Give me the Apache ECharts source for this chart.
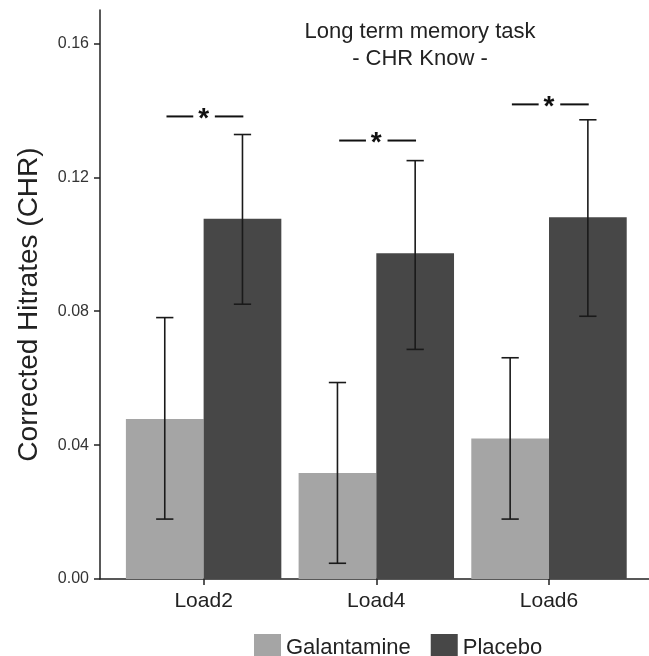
<!DOCTYPE html>
<html>
<head>
<meta charset="utf-8">
<script src="https://cdn.jsdelivr.net/npm/echarts@6/dist/echarts.min.js"></script>
<style>
  html, body { margin: 0; padding: 0; background: #fff; }
  #main { width: 649px; height: 656px; }
</style>
</head>
<body>
<div id="main"></div>
<script>
var categories = ['Load2', 'Load4', 'Load6'];
var galantamine = [0.0478, 0.0317, 0.0420];
var galLow = [0.0179, 0.0047, 0.0179];
var galHigh = [0.0781, 0.0587, 0.0661];
var placebo = [0.1076, 0.0973, 0.1081];
var plaLow = [0.0821, 0.0686, 0.0785];
var plaHigh = [0.1328, 0.1250, 0.1372];
var sigLevel = [0.1382, 0.1310, 0.1418];
var yTicks = [0, 0.04, 0.08, 0.12, 0.16];

var font = 'Liberation Sans';
var dodge = 0.225;

function pos(i) { return i + 1; }

function barData(vals) {
  return vals.map(function (v, i) { return [pos(i), v]; });
}
function errData(lo, hi) {
  return lo.map(function (v, i) { return [pos(i), v, hi[i]]; });
}

function barRender(shift) {
  return function (params, api) {
    var x = api.value(0) + shift;
    var p0 = api.coord([x - dodge, api.value(1)]);
    var p1 = api.coord([x + dodge, 0]);
    return {
      type: 'rect',
      shape: { x: p0[0], y: p0[1], width: p1[0] - p0[0], height: p1[1] - p0[1] },
      style: { fill: api.visual('color') }
    };
  };
}

function errRender(shift) {
  return function (params, api) {
    var x = api.value(0) + shift;
    var lo = api.coord([x, api.value(1)]);
    var hi = api.coord([x, api.value(2)]);
    var cl = api.coord([x - 0.05, 0])[0];
    var cr = api.coord([x + 0.05, 0])[0];
    var st = { stroke: '#1a1a1a', lineWidth: 1.6 };
    return {
      type: 'group',
      children: [
        { type: 'line', shape: { x1: lo[0], y1: lo[1], x2: hi[0], y2: hi[1] }, style: st },
        { type: 'line', shape: { x1: cl, y1: lo[1], x2: cr, y2: lo[1] }, style: st },
        { type: 'line', shape: { x1: cl, y1: hi[1], x2: cr, y2: hi[1] }, style: st }
      ]
    };
  };
}

function sigRender(params, api) {
  var x = api.value(0);
  var c = api.coord([x, api.value(1)]);
  var a = api.coord([x - 0.215, 0])[0];
  var b = api.coord([x - 0.06, 0])[0];
  var d = api.coord([x + 0.065, 0])[0];
  var e = api.coord([x + 0.23, 0])[0];
  var st = { stroke: '#111', lineWidth: 2 };
  return {
    type: 'group',
    children: [
      { type: 'line', shape: { x1: a, y1: c[1], x2: b, y2: c[1] }, style: st },
      { type: 'line', shape: { x1: d, y1: c[1], x2: e, y2: c[1] }, style: st },
      { type: 'text', x: c[0], y: c[1] + 3,
        style: { text: '*', font: 'bold 28px ' + font, fill: '#111', align: 'center', verticalAlign: 'middle' } }
    ]
  };
}

var chart = echarts.init(document.getElementById('main'));
var option = {
  animation: false,
  title: {
    text: 'Long term memory task\n- CHR Know -',
    left: 415,
    top: 13,
    textAlign: 'center',
    textStyle: { fontFamily: font, fontSize: 22, fontWeight: 'normal', color: '#222', lineHeight: 27 }
  },
  legend: {
    left: 249,
    top: 629,
    itemWidth: 27,
    itemHeight: 27,
    itemGap: 20,
    textStyle: { fontFamily: font, fontSize: 22, color: '#222' },
    data: [{ name: 'Galantamine', icon: 'rect' }, { name: 'Placebo', icon: 'rect' }]
  },
  grid: { left: 100, right: 0, top: 10, bottom: 77 },
  xAxis: {
    type: 'value',
    min: 0.4,
    max: 3.579,
    splitLine: { show: false },
    axisLine: { show: true, lineStyle: { color: '#222', width: 1.5 } },
    axisTick: { show: true, length: 6, customValues: [1, 2, 3], lineStyle: { color: '#222', width: 1.5 } },
    axisLabel: {
      customValues: [1, 2, 3],
      margin: 12,
      fontFamily: font, fontSize: 21, color: '#222',
      formatter: function (v) { return categories[Math.round(v) - 1]; }
    }
  },
  yAxis: {
    type: 'value',
    min: 0,
    max: 0.17,
    interval: 0.04,
    name: 'Corrected Hitrates (CHR)',
    nameLocation: 'middle',
    nameGap: 57,
    nameTextStyle: { fontFamily: font, fontSize: 28, color: '#222', padding: [0, 0, 0, -20] },
    splitLine: { show: false },
    axisLine: { show: true, lineStyle: { color: '#222', width: 1.5 } },
    axisTick: { show: true, length: 6, customValues: yTicks, lineStyle: { color: '#222', width: 1.5 } },
    axisLabel: {
      customValues: yTicks,
      margin: 11,
      fontFamily: font, fontSize: 16, color: '#333',
      formatter: function (v) { return v.toFixed(2); }
    }
  },
  series: [
    { name: 'Galantamine', type: 'custom', itemStyle: { color: '#a5a5a5' },
      renderItem: barRender(-dodge), data: barData(galantamine), encode: { x: 0, y: 1 } },
    { name: 'Placebo', type: 'custom', itemStyle: { color: '#474747' },
      renderItem: barRender(dodge), data: barData(placebo), encode: { x: 0, y: 1 } },
    { name: 'galErr', type: 'custom', renderItem: errRender(-dodge),
      data: errData(galLow, galHigh), encode: { x: 0, y: [1, 2] }, z: 5 },
    { name: 'plaErr', type: 'custom', renderItem: errRender(dodge),
      data: errData(plaLow, plaHigh), encode: { x: 0, y: [1, 2] }, z: 5 },
    { name: 'sig', type: 'custom', renderItem: sigRender,
      data: barData(sigLevel), encode: { x: 0, y: 1 }, z: 5 }
  ]
};
chart.setOption(option);
</script>
</body>
</html>
